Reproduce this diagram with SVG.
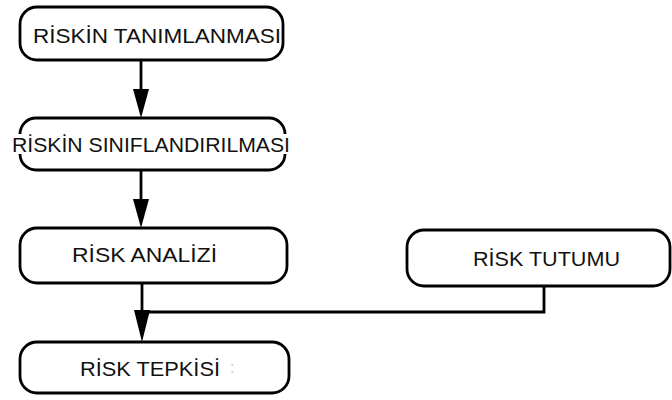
<svg xmlns="http://www.w3.org/2000/svg" width="672" height="400" viewBox="0 0 672 400">
  <style>
    .box { fill: #ffffff; stroke: #000000; stroke-width: 2.8; }
    .open { fill: none; stroke: #000000; stroke-width: 2.8; }
    .lbl { font-family: "Liberation Sans", Arial, sans-serif; font-size: 21px; fill: #111111; }
    .wire { fill: none; stroke: #000000; stroke-width: 2.8; }
    .head { fill: #000000; stroke: none; }
  </style>
  <rect width="672" height="400" fill="#ffffff"/>

  <g id="connectors">
    <line class="wire" x1="141" y1="60" x2="141" y2="92"/>
    <polygon class="head" points="133,89 149,89 141,118"/>
    <line class="wire" x1="141" y1="170" x2="141" y2="202"/>
    <polygon class="head" points="133,199 149,199 141,228"/>
    <line class="wire" x1="142" y1="283" x2="142" y2="314"/>
    <polygon class="head" points="134,310 150,310 142,342"/>
    <polyline class="wire" points="544,286 544,312 142,312"/>
  </g>

  <g id="riskin-tanimlanmasi">
    <rect class="box" x="20" y="7" width="263" height="53" rx="17"/>
    <text class="lbl" x="33" y="43" textLength="248" lengthAdjust="spacingAndGlyphs">RİSKİN TANIMLANMASI</text>
  </g>

  <g id="riskin-siniflandirilmasi">
    <path class="open" d="M20,134 A16,16 0 0 1 36,118 H269 A16,16 0 0 1 285,134"/>
    <path class="open" d="M20,154 A16,16 0 0 0 36,170 H269 A16,16 0 0 0 285,154"/>
    <text class="lbl" x="12" y="152" textLength="278" lengthAdjust="spacingAndGlyphs">RİSKİN SINIFLANDIRILMASI</text>
  </g>

  <g id="risk-analizi">
    <rect class="box" x="20" y="228" width="267" height="55" rx="17"/>
    <text class="lbl" x="72" y="262" textLength="145" lengthAdjust="spacingAndGlyphs">RİSK ANALİZİ</text>
  </g>

  <g id="risk-tepkisi">
    <rect class="box" x="20" y="342" width="269" height="51" rx="17"/>
    <text class="lbl" x="80" y="376" textLength="140" lengthAdjust="spacingAndGlyphs">RİSK TEPKİSİ</text>
    <text x="230" y="373" font-family="Liberation Sans, sans-serif" font-size="16" fill="#c8c8c8">:</text>
  </g>

  <g id="risk-tutumu">
    <rect class="box" x="407" y="230" width="263" height="56" rx="17"/>
    <text class="lbl" x="473" y="266" textLength="147" lengthAdjust="spacingAndGlyphs">RİSK TUTUMU</text>
  </g>
</svg>
